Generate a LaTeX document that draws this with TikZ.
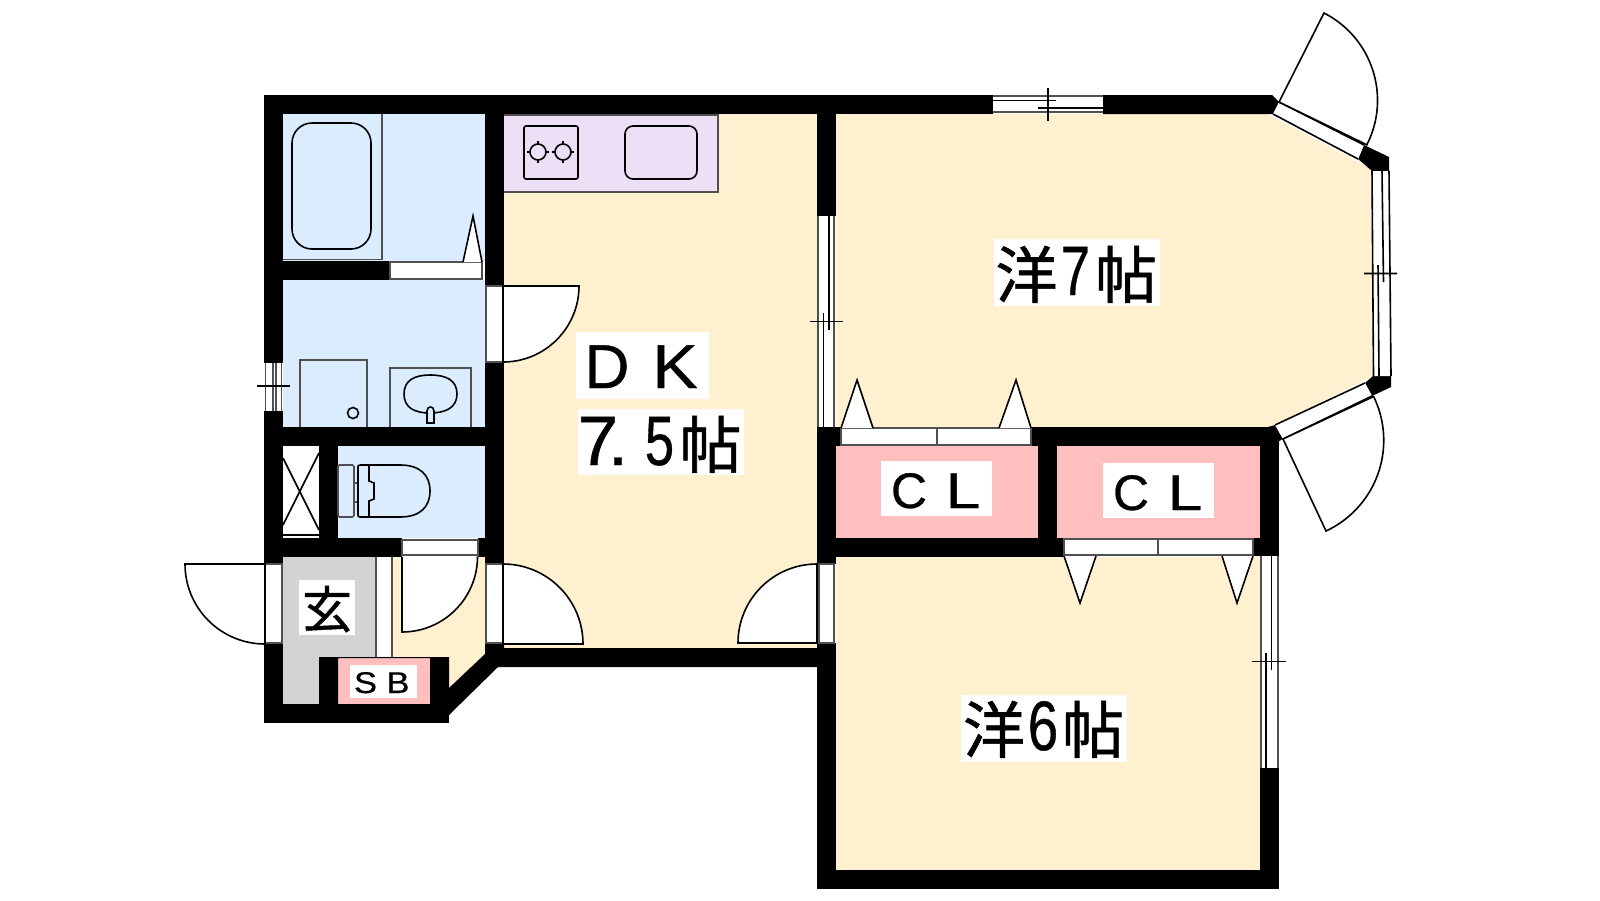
\documentclass[tikz,border=0pt]{standalone}
\usepackage{fontspec}
\setmainfont{Liberation Sans}[FakeBold=0.6]
\newfontfamily\cjkfont{Noto Sans CJK JP}[FakeBold=0.9]
\definecolor{beige}{HTML}{FFF0CF}
\definecolor{bluefl}{HTML}{DBECFF}
\definecolor{pinkfl}{HTML}{FFBFBF}
\definecolor{grayfl}{HTML}{D3D3D3}
\definecolor{purplefl}{HTML}{EDDFF5}
\definecolor{edgegray}{HTML}{505050}
\newcommand\gl[2]{\makebox[#1pt]{#2}}
\newcommand\kj[1]{\raisebox{-3pt}{\cjkfont\fontsize{62}{62}\selectfont #1}}
\newcommand\dg[2]{\fontsize{70}{70}\selectfont\scalebox{#1}[1]{#2}}
\tikzset{
  wall/.style={fill=black,draw=none},
  opening/.style={fill=white,draw=edgegray,line width=1.6pt},
  sash/.style={draw=black,line width=1.6pt},
  leaf/.style={fill=white,draw=black,line width=1.6pt},
  thin part/.style={draw=black,line width=1.6pt},
  fixture/.style={draw=black,line width=1.6pt},
  labelbox/.style={fill=white,inner sep=0pt,outer sep=0pt,draw=none},
}
\begin{document}
\begin{tikzpicture}[x=1pt,y=-1pt]
\useasboundingbox (0,0) rectangle (1600,900);
\fill[white] (0,0) rectangle (1600,900);
% floors
\fill[beige] (504,114) rectangle (817,648);
\fill[beige] (392,557) -- (485,557) -- (485,654) -- (449,688) -- (449,657) -- (392,657) -- cycle;
\fill[beige] (836,114) -- (1267,114) -- (1372,169) -- (1373,376) -- (1275,425) -- (1268,427) -- (836,427) -- cycle;
\fill[beige] (836,557) rectangle (1260,870);
\fill[bluefl] (283,114) rectangle (485,261);
\fill[bluefl] (283,280) rectangle (485,427);
\fill[bluefl] (338,446) rectangle (485,538);
\fill[grayfl] (283,557) rectangle (376,704);
\fill[pinkfl] (836,446) rectangle (1038,538);
\fill[pinkfl] (1057,446) rectangle (1260,538);
\fill[pinkfl] (338,658) rectangle (430,704);
% closet with X
\fill[white] (283,447) rectangle (319,538);
\draw[thin part] (283,535) -- (319,535);
\draw[thin part] (283,458) -- (319,530);
\draw[thin part] (319,453) -- (283,525);
% walls
\fill[wall] (264,95) rectangle (993,114);
\fill[wall] (1103,95) -- (1272,95) -- (1279,102) -- (1273,114) -- (1103,114) -- cycle;
\fill[wall] (264,95) rectangle (283,363);
\fill[wall] (264,411) rectangle (283,564);
\fill[wall] (264,643) rectangle (283,723);
\fill[wall] (264,704) rectangle (449,723);
\fill[wall] (449,688) -- (485,654) -- (485,643) -- (504,643) -- (504,648) -- (817,648) -- (817,667) -- (498,667) -- (449,715) -- cycle;
\fill[wall] (319,657) -- (449,657) -- (449,704) -- (430,704) -- (430,658) -- (338,658) -- (338,704) -- (319,704) -- cycle;
\fill[wall] (283,261) rectangle (390,280);
\fill[wall] (283,427) rectangle (504,446);
\fill[wall] (319,446) rectangle (338,538);
\fill[wall] (283,538) rectangle (402,557);
\fill[wall] (478,538) rectangle (485,557);
\fill[wall] (485,114) rectangle (504,286);
\fill[wall] (485,362) rectangle (504,564);
\fill[wall] (817,95) rectangle (836,216);
\fill[wall] (817,427) rectangle (836,564);
\fill[wall] (817,643) rectangle (836,889);
\fill[wall] (817,870) rectangle (1279,889);
\fill[wall] (1260,427) rectangle (1279,556);
\fill[wall] (1260,768) rectangle (1279,889);
\fill[wall] (817,427) rectangle (841,446);
\fill[wall] (1031,427) rectangle (1279,446);
\fill[wall] (1268,427) -- (1275,425) -- (1283,439) -- (1279,441) -- (1279,446) -- (1268,446) -- cycle;
\fill[wall] (1038,446) rectangle (1057,557);
\fill[wall] (836,538) rectangle (1064,557);
\fill[wall] (1253,538) rectangle (1279,556);
\fill[wall] (1364,145) -- (1389,157) -- (1389,171) -- (1372,171) -- (1358,159) -- cycle;
\fill[wall] (1365,383) -- (1373,376) -- (1391,376) -- (1391,387) -- (1372,396) -- cycle;
% kitchen
\draw[fill=purplefl,draw=edgegray,line width=1.6pt] (504,115) -- (718,115) -- (718,192) -- (504,192);
\fill[purplefl] (504,115.8) rectangle (717,191);
\draw[fixture,rounded corners=2pt] (524,126) rectangle (578,179);
\draw[fixture,rounded corners=8pt] (625,126) rectangle (697,179);
\draw[fixture] (527,152) -- (549,152) (538,141) -- (538,163);
\draw[fixture] (552,152) -- (574,152) (563,141) -- (563,163);
\draw[fixture,fill=purplefl] (538,152) circle (8);
\draw[fixture,fill=purplefl] (563,152) circle (8);
% bath
\draw[draw=edgegray,line width=1.6pt] (382,114) -- (382,259.5) -- (283,259.5);
\draw[fixture,rounded corners=20pt] (292,123) rectangle (371,249);
% wash room
\draw[fixture,draw=edgegray] (300,427) -- (300,360) -- (367,360) -- (367,427);
\draw[fixture] (353,413) circle (5.5);
\draw[fixture,draw=edgegray] (390,427) -- (390,368) -- (471,368) -- (471,427);
\draw[fixture] (404,394) .. controls (404,380) and (415,375) .. (430,375) .. controls (446,375) and (457,380) .. (457,394) .. controls (457,408) and (445,413) .. (430,413) .. controls (415,413) and (404,408) .. (404,394) -- cycle;
\draw[fixture,fill=bluefl] (427,423) -- (427,411) .. controls (427,408) and (429,407) .. (430.5,407) .. controls (432,407) and (434,408) .. (434,411) -- (434,423) -- cycle;
% toilet
\draw[fixture,draw=edgegray,rounded corners=1.5pt] (338,465) rectangle (354,517);
\draw[fixture,draw=edgegray] (354,483) rectangle (358,502);
\draw[fixture] (360,465) -- (400,465) .. controls (420,465) and (430,475) .. (430,491) .. controls (430,507) and (420,517) .. (400,517) -- (360,517) .. controls (358,517) and (358,516) .. (358,515) -- (358,467) .. controls (358,466) and (358,465) .. (360,465);
\draw[fixture] (369,465) -- (369,481) -- (374,483) -- (374,499) -- (369,501) -- (369,517);
% openings (doors)
\draw[opening] (390,262) rectangle (482,279);
\draw[opening] (402,540) rectangle (478,555);
\draw[opening] (486,286) rectangle (503,362);
\draw[opening] (486,564) rectangle (503,643);
\draw[opening] (819,564) rectangle (834,643);
\draw[opening] (265,564) rectangle (282,643);
\fill[white] (376,557) rectangle (392,657);
\draw[opening] (376,557) -- (376,657) (392,557) -- (392,657);
\draw[opening] (841,428) rectangle (1031,445);
\draw[opening] (937,428) -- (937,445);
\draw[opening] (1064,539) rectangle (1253,555);
\draw[opening] (1158,539) -- (1158,555);
% door leaves
\draw[leaf] (503,286) -- (579,286) arc[start angle=0,end angle=90,radius=76] -- cycle;
\draw[leaf] (503,644) -- (503,564) arc[start angle=-90,end angle=0,radius=80] -- cycle;
\draw[leaf] (265,564) -- (185,564) arc[start angle=180,end angle=90,radius=80] -- cycle;
\draw[leaf] (402,557) -- (402,632) arc[start angle=90,end angle=0,radius=75.5] ;
\draw[leaf] (817,643) -- (738,643) arc[start angle=180,end angle=270,radius=79] -- cycle;
% folding / sliding door triangles
\draw[leaf,line join=miter] (463,262) -- (473,216) -- (482,262);
\draw[leaf] (841,428) -- (857,380) -- (873,428);
\draw[leaf] (999,428) -- (1016,380) -- (1031,428);
\draw[leaf] (1064,556) -- (1080,603) -- (1096,556);
\draw[leaf] (1222,556) -- (1237,603) -- (1253,556);
% diagonal doors upper right
\fill[white] (1279,102) -- (1364,145) -- (1358,159) -- (1273,114) -- cycle;
\draw[sash] (1279,102) -- (1364,145) (1358,159) -- (1273,114);
\draw[leaf] (1279,102) -- (1324,13) arc[start angle=-63,end angle=27,radius=98] -- cycle;
% diagonal doors lower right
\fill[white] (1275,425) -- (1365,383) -- (1372,396) -- (1283,439) -- cycle;
\draw[sash] (1275,425) -- (1365,383) (1372,396) -- (1283,439);
\draw[leaf] (1283,439) -- (1326,531) arc[start angle=65,end angle=-26,radius=100] -- cycle;
% windows
\fill[white] (993,96) rectangle (1103,113);
\draw[sash,draw=edgegray] (993,96) -- (1103,96) (993,112) -- (1103,112);
\draw[sash] (993,100.5) -- (1056,100.5) (1038,108) -- (1103,108) (1048,88) -- (1048,121);
\fill[white] (818,216) rectangle (834,427);
\draw[sash,draw=edgegray] (818,216) -- (818,427) (834,216) -- (834,427);
\draw[sash] (829,216) -- (829,330) (823.5,313) -- (823.5,427) (810,321.5) -- (843,321.5);
\fill[white] (1261,556) rectangle (1278,768);
\draw[sash,draw=edgegray] (1261,556) -- (1261,768) (1278,556) -- (1278,768);
\draw[sash] (1271.5,556) -- (1271.5,670) (1266,653) -- (1266,768) (1252,661.5) -- (1286,661.5);
\fill[white] (1372,171) -- (1389,171) -- (1391,376) -- (1373.5,376) -- cycle;
\draw[sash] (1372,171) -- (1373.5,376) (1389,171) -- (1391,376);
\draw[sash] (1382,171) -- (1383.5,282) (1378,265) -- (1379,376) (1364,273.5) -- (1397,273.5);
\fill[white] (265,363) rectangle (282,411);
\draw[sash,draw=edgegray] (265.5,363) -- (265.5,411) (281.5,363) -- (281.5,411);
\draw[sash,draw=edgegray] (273,363) -- (273,411) (276,363) -- (276,411);
\draw[sash] (257,386) -- (290,386);
% labels
\node[labelbox,text height=56pt,text depth=11pt] (roomseven) at (1077,272.5) {\hbox to 166pt{\gl{65}{\kj{洋}}\gl{33}{\dg{.75}{7}}\gl{68}{\kj{帖}}}};
\node[labelbox,text height=55pt,text depth=12pt] (roomsix) at (1044,728.5) {\hbox to 166pt{\gl{66}{\kj{洋}}\gl{32}{\dg{.78}{6}}\gl{68}{\kj{帖}}}};
\node[labelbox,text height=56pt,text depth=11pt] (dkname) at (642.5,365.5) {\hbox to 133pt{\fontsize{62}{62}\selectfont\gl{62}{D}\gl{74}{\scalebox{1.1}[1]{K}}\hss}};
\node[labelbox,text height=56pt,text depth=10pt] (dksize) at (661,442) {\hbox to 166pt{\gl{40}{\dg{1.05}{7}}\makebox[0pt]{\dg{1}{.}}\hspace{24pt}\gl{35}{\dg{.75}{5}}\gl{67}{\kj{帖}}}};
\node[labelbox,text height=47pt,text depth=8pt] (clone) at (936.5,488.5) {\hbox to 111pt{\fontsize{50}{50}\selectfont\gl{56}{C}\gl{52}{\scalebox{1.25}[1]{L}}\hss}};
\node[labelbox,text height=47pt,text depth=8pt] (cltwo) at (1158.5,490.5) {\hbox to 111pt{\fontsize{50}{50}\selectfont\gl{56}{C}\gl{52}{\scalebox{1.25}[1]{L}}\hss}};
\node[labelbox,text height=28pt,text depth=5pt] (sbname) at (383.5,681.5) {\hbox to 67pt{\fontsize{30}{30}\selectfont\gl{31}{\scalebox{1.15}[1]{S}}\gl{34}{\scalebox{1.15}[1]{B}}\hss}};
\node[labelbox,text height=48pt,text depth=7pt] (genkan) at (327,607.5) {\hbox to 56pt{\hss\cjkfont\fontsize{50}{50}\selectfont 玄\hss}};
\end{tikzpicture}
\end{document}
